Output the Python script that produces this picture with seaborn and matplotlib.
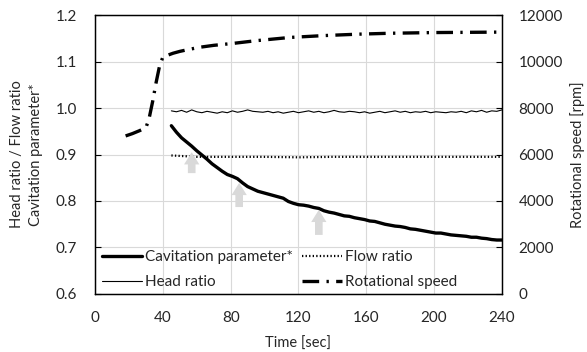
import matplotlib
matplotlib.use('Agg')
import matplotlib.pyplot as plt
import pandas as pd
import seaborn as sns

# time grid (sec) for the measured ratios
t_fine = list(range(45, 241, 3))

cavitation = [0.962, 0.948, 0.936, 0.927, 0.918, 0.908, 0.899, 0.890, 0.880, 0.872,
              0.864, 0.857, 0.853, 0.848, 0.839, 0.831, 0.826, 0.821, 0.818, 0.815,
              0.812, 0.809, 0.806, 0.799, 0.795, 0.792, 0.791, 0.789, 0.786, 0.784,
              0.779, 0.776, 0.774, 0.771, 0.768, 0.767, 0.764, 0.762, 0.760, 0.757,
              0.756, 0.753, 0.750, 0.748, 0.746, 0.745, 0.743, 0.740, 0.739, 0.737,
              0.735, 0.733, 0.731, 0.731, 0.729, 0.727, 0.726, 0.725, 0.724, 0.722,
              0.722, 0.720, 0.719, 0.717, 0.716, 0.716]

head_ratio = [0.994, 0.992, 0.995, 0.991, 0.996, 0.992, 0.990, 0.993, 0.991, 0.989,
              0.992, 0.990, 0.994, 0.991, 0.993, 0.996, 0.993, 0.992, 0.991, 0.993,
              0.990, 0.992, 0.989, 0.991, 0.993, 0.990, 0.992, 0.994, 0.991, 0.993,
              0.990, 0.992, 0.995, 0.992, 0.991, 0.993, 0.992, 0.990, 0.992, 0.989,
              0.991, 0.993, 0.990, 0.992, 0.994, 0.991, 0.993, 0.990, 0.992, 0.991,
              0.993, 0.990, 0.992, 0.991, 0.990, 0.992, 0.991, 0.993, 0.990, 0.994,
              0.992, 0.995, 0.991, 0.994, 0.993, 0.996]

flow_t = [45, 50, 60, 80, 100, 120, 140, 160, 180, 200, 220, 240]
flow_ratio = [0.898, 0.897, 0.895, 0.895, 0.895, 0.894, 0.895, 0.895, 0.895, 0.895, 0.895, 0.895]

rpm_t = [18, 22, 26, 30, 32, 34, 36, 38, 40, 43, 46, 50, 55, 62, 70, 81, 95, 115,
         135, 155, 174, 200, 220, 240]
rpm = [6800, 6900, 7020, 7150, 7600, 8300, 9100, 9800, 10200, 10280, 10360, 10440,
       10520, 10620, 10700, 10780, 10900, 11040, 11120, 11180, 11220, 11250, 11260, 11270]

# grey arrows marking events on the cavitation curve
arrow_t = [57, 85, 132]
arrow_tail = [0.860, 0.787, 0.727]
arrow_tip = [0.905, 0.839, 0.781]

TEXT = '#262626'

sns.set_style('white')
plt.rcParams['font.family'] = ['Lato', 'DejaVu Sans']
plt.rcParams['font.size'] = 11

df = pd.DataFrame({'t': t_fine, 'cav': cavitation, 'head': head_ratio})
df_flow = pd.DataFrame({'t': flow_t, 'flow': flow_ratio})
df_rpm = pd.DataFrame({'t': rpm_t, 'rpm': rpm})

fig = plt.figure(figsize=(5.87, 3.52), dpi=100)
ax = fig.add_axes([0.162, 0.165, 0.693, 0.792])
ax2 = ax.twinx()

sns.lineplot(data=df, x='t', y='head', ax=ax, color='black', lw=0.8, label='Head ratio')
sns.lineplot(data=df_flow, x='t', y='flow', ax=ax, color='black', lw=1.6,
             linestyle=(0, (0.6, 1.0)), label='Flow ratio')
sns.lineplot(data=df, x='t', y='cav', ax=ax, color='black', lw=2.4,
             label='Cavitation parameter*')
sns.lineplot(data=df_rpm, x='t', y='rpm', ax=ax2, color='black', lw=2.4,
             linestyle=(0, (5, 2.2, 0.7, 2.2)), label='Rotational speed')

for t, a, b in zip(arrow_t, arrow_tail, arrow_tip):
    ax.annotate('', xy=(t, b), xytext=(t, a),
                arrowprops=dict(arrowstyle='simple,head_width=1.0,head_length=0.8,tail_width=0.5',
                                color='#d9d9d9', lw=0, shrinkA=0, shrinkB=0))

ax.set_xlim(0, 240)
ax.set_ylim(0.6, 1.2)
ax.set_xticks(range(0, 241, 40))
ax.set_yticks([0.6, 0.7, 0.8, 0.9, 1.0, 1.1, 1.2])
ax.set_yticklabels([f'{v:.1f}' for v in [0.6, 0.7, 0.8, 0.9, 1.0, 1.1, 1.2]])
ax2.set_ylim(0, 12000)
ax2.set_yticks(range(0, 12001, 2000))

ax.grid(True, color='#d9d9d9', lw=0.8)
ax.set_axisbelow(True)
for a in (ax, ax2):
    for s in a.spines.values():
        s.set_color('black')
        s.set_linewidth(0.9)
    a.tick_params(direction='in', length=4, width=0.8, color='black',
                  labelcolor=TEXT, labelsize=11)
ax.tick_params(axis='y', pad=13)
ax2.tick_params(axis='y', pad=12)
ax.tick_params(axis='x', pad=12)

ax.set_xlabel('Time [sec]', fontsize=10.5, labelpad=9, color=TEXT)
ax.set_ylabel('Head ratio / Flow ratio\nCavitation parameter*', fontsize=10.5,
              labelpad=9, color=TEXT, linespacing=1.45)
ax2.set_ylabel('Rotational speed [rpm]', fontsize=10.5, labelpad=5, color=TEXT)

h1, l1 = ax.get_legend_handles_labels()
h2, l2 = ax2.get_legend_handles_labels()
hd = dict(zip(l1 + l2, h1 + h2))
order = ['Cavitation parameter*', 'Head ratio', 'Flow ratio', 'Rotational speed']
ax.get_legend().remove()
ax2.get_legend().remove()
leg = ax2.legend([hd[k] for k in order], order, ncol=2, loc='lower left',
                 bbox_to_anchor=(-0.005, -0.015), frameon=False, fontsize=11,
                 handlelength=2.6, handletextpad=0.2, columnspacing=0.6,
                 labelspacing=0.7, borderaxespad=0.2)
for txt in leg.get_texts():
    txt.set_color(TEXT)

fig.savefig('out.png', dpi=100)
